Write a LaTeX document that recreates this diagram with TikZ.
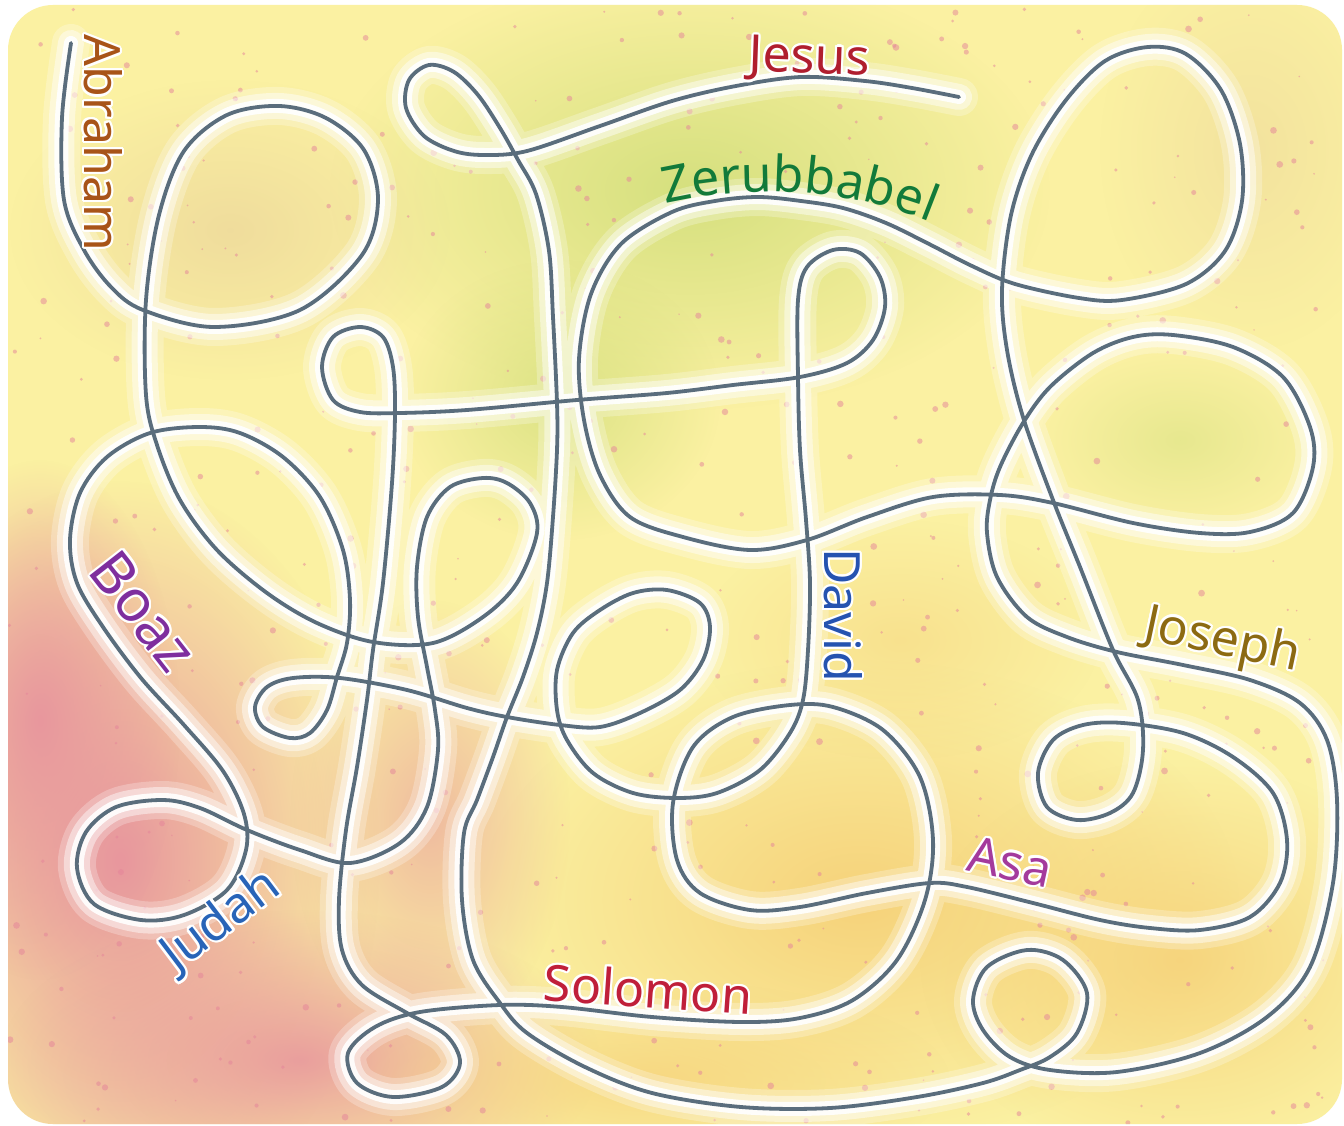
\documentclass[tikz,border=0pt]{standalone}
\usepackage{fontspec}
\setmainfont{Noto Sans}
\usepackage[copies]{contour}
\usetikzlibrary{fadings,decorations.text}
\definecolor{bgyellow}{HTML}{FBF1A2}
\definecolor{leaf}{HTML}{D3DF7C}
\definecolor{blush}{HTML}{E8979D}
\definecolor{honey}{HTML}{F6D27A}
\definecolor{tan}{HTML}{EBD49A}
\definecolor{specks}{HTML}{E5849A}
\definecolor{mazeline}{HTML}{5A6D7C}
\definecolor{abrahamcol}{HTML}{A85418}
\definecolor{jesuscol}{HTML}{B01E2E}
\definecolor{zerucol}{HTML}{127A3A}
\definecolor{boazcol}{HTML}{7F2E9E}
\definecolor{judahcol}{HTML}{2864B8}
\definecolor{davidcol}{HTML}{2553B0}
\definecolor{josephcol}{HTML}{8C6A12}
\definecolor{asacol}{HTML}{A43A9C}
\definecolor{solomoncol}{HTML}{C01F3A}
\tikzfading[name=soft edge,inner color=transparent!0,outer color=transparent!100]
\contourlength{2.2pt}
\newcommand{\namefont}{\fontsize{50}{50}\selectfont}
\newcommand{\mazepath}{plot[smooth,tension=0.55] coordinates {
  (71,43) (62,118) (64,200) (84,250) (111,287) (143,310) (214,327) (300,310) (362,255) (378,200)
  (364,150) (326,118) (279,106) (227,115) (184,151) (159,215) (146,300) (146,395) (157,445) (180,500)
  (217,550) (267,593) (317,623) (373,642) (433,643) (483,617) (517,583) (537,533) (530,503) (507,483)
  (483,478) (450,487) (427,517) (417,567) (418,617) (427,667) (435,710) (438,750) (427,807) (400,843)
  (350,863) (300,850) (247,830) (200,808) (163,800) (116,807) (86,832) (77,868) (94,904) (141,920)
  (184,915) (227,890) (246,850) (244,814) (223,771) (184,725) (141,678) (103,627) (77,583) (70,540)
  (80,493) (107,457) (150,433) (200,427) (240,433) (283,457) (320,497) (343,550) (350,600) (347,643)
  (337,677) (327,710) (310,733) (290,738) (263,727) (255,707) (267,687) (293,678) (340,678) (407,690)
  (467,708) (507,717) (560,725) (600,727) (640,713) (680,690) (703,660) (710,627) (700,603) (667,590)
  (633,593) (600,610) (573,633) (557,670) (557,710) (567,740) (593,773) (633,793) (677,798) (717,793)
  (760,770) (790,733) (803,700) (808,650) (810,583) (806,520) (800,450) (798,377) (798,300) (807,267)
  (833,250) (860,253) (880,277) (885,307) (873,340) (847,363) (800,377) (733,385) (667,393) (577,400)
  (467,410) (400,413) (360,412) (333,400) (322,367) (333,337) (360,327) (383,337) (393,367) (395,413)
  (392,483) (383,583) (373,650) (367,700) (357,767) (346,830) (339,900) (342,950) (362,985) (407,1013)
  (446,1035) (460,1063) (442,1087) (393,1097) (357,1083) (348,1053) (375,1027) (420,1012) (500,1005) (562,1007)
  (652,1017) (741,1022) (800,1018) (853,1000) (897,960) (925,900) (933,840) (920,777) (883,730) (833,707)
  (790,705) (733,717) (693,747) (673,803) (677,860) (700,893) (750,910) (800,907) (867,893) (930,883)
  (967,887) (1033,903) (1100,920) (1150,928) (1200,930) (1250,917) (1280,883) (1287,840) (1273,793) (1233,757)
  (1183,733) (1123,723) (1083,725) (1053,740) (1038,773) (1047,807) (1077,820) (1110,813) (1133,793) (1143,750)
  (1138,700) (1113,650) (1080,567) (1053,500) (1023,417) (1007,350) (1002,290) (1011,215) (1032,154) (1066,100)
  (1105,61) (1148,47) (1186,54) (1221,90) (1240,144) (1242,201) (1225,251) (1186,284) (1122,300) (1079,298)
  (1015,284) (972,266) (929,244) (886,223) (843,208) (801,201) (758,197) (715,201) (672,212) (621,244)
  (591,294) (579,359) (584,420) (600,475) (630,517) (683,537) (750,550) (807,540) (867,517) (933,497)
  (1000,495) (1053,503) (1133,523) (1200,533) (1250,532) (1293,513) (1313,467) (1310,427) (1283,377) (1233,347)
  (1173,335) (1133,337) (1093,353) (1050,387) (1023,423) (1000,467) (990,500) (987,533) (997,577) (1027,617)
  (1067,637) (1117,652) (1183,665) (1250,680) (1300,703) (1327,740) (1337,800) (1333,883) (1310,967) (1267,1017)
  (1200,1053) (1117,1072) (1050,1070) (1010,1057) (983,1030) (973,1000) (987,967) (1027,950) (1063,960) (1087,993)
  (1077,1033) (1050,1057) (1020,1070) (983,1083) (917,1097) (830,1108) (741,1107) (652,1093) (585,1067) (527,1033)
  (500,1003) (473,960) (462,900) (464,833) (477,800) (493,757) (507,717) (523,677) (537,633) (547,583)
  (553,517) (557,450) (557,403) (553,317) (549,251) (536,194) (518,160) (500,128) (478,95) (454,72)
  (429,65) (409,80) (406,108) (424,136) (454,151) (484,155) (527,151) (600,126) (672,101) (736,86)
  (801,77) (865,81) (912,88) (959,97)}}

\begin{document}
\begin{tikzpicture}[x=1pt,y=-1pt,
    maze/.style={draw=mazeline,line width=3.8pt,line cap=round,line join=round},
    halo/.style={draw=white,line cap=round,line join=round},
    patch/.style={path fading=soft edge},
    speck/.style={fill=specks,opacity=0.5},
    hero/.style={font=\namefont,inner sep=0pt},
  ]
  \useasboundingbox (0,0) rectangle (1344,1126);
  \fill[white] (0,0) rectangle (1344,1126);
  \begin{scope}
    \clip[rounded corners=45pt] (8,5) rectangle (1342,1124);
    \fill[bgyellow] (0,0) rectangle (1344,1126);
    \fill[leaf,patch,opacity=0.95] (690,190) ellipse (360 and 220);
    \fill[leaf,patch,opacity=0.8] (560,400) ellipse (160 and 140);
    \fill[leaf,patch,opacity=0.5] (1180,440) ellipse (140 and 90);
    \fill[tan,patch,opacity=0.7] (230,230) ellipse (220 and 150);
    \fill[tan,patch,opacity=0.5] (1250,150) ellipse (150 and 200);
    \fill[blush,patch] (120,860) ellipse (260 and 380);
    \fill[blush,patch] (40,720) ellipse (140 and 260);
    \fill[blush,patch,opacity=0.9] (300,1060) ellipse (300 and 150);
    \fill[blush,patch,opacity=0.6] (430,820) ellipse (140 and 220);
    \fill[honey,patch] (860,900) ellipse (380 and 240);
    \fill[honey,patch,opacity=0.9] (1180,960) ellipse (260 and 200);
    \fill[honey,patch,opacity=0.8] (650,1080) ellipse (300 and 100);
    \fill[honey,patch,opacity=0.5] (900,640) ellipse (200 and 120);
    \pgfmathsetseed{42}
    \foreach \i in {1,...,520}
      \fill[speck] ({8+1330*rnd},{5+1118*rnd}) circle ({0.8+2.6*rnd});
    \foreach \w/\o in {38/0.25,26/0.45,14/0.9}
      \draw[halo,line width=\w pt,opacity=\o] \mazepath;
    \draw[maze] \mazepath;
  \end{scope}

  \node[hero,text=abrahamcol,rotate=-90] (abraham) at (102,143) {\contour{white}{Abraham}};
  \node[hero,text=jesuscol,anchor=base,rotate=-2] (jesus) at (809,73) {\contour{white}{Jesus}};
  \path[decorate,decoration={text along path,text align=center,
      text={|\namefont\color{zerucol}|Zerubbabel}}]
    (655,206) .. controls (740,184) and (850,186) .. (940,226);
  \node[hero,text=boazcol,rotate=-52,font=\fontsize{58}{58}\selectfont] (boaz) at (143,612) {\contour{white}{Boaz}};
  \node[hero,text=judahcol,rotate=37] (judah) at (222,922) {\contour{white}{Judah}};
  \node[hero,text=davidcol,rotate=-90] (david) at (842,615) {\contour{white}{David}};
  \node[hero,text=josephcol,rotate=-12] (joseph) at (1222,643) {\contour{white}{Joseph}};
  \node[hero,text=asacol,rotate=-12] (asa) at (1010,863) {\contour{white}{Asa}};
  \node[hero,text=solomoncol,rotate=-4] (solomon) at (648,990) {\contour{white}{Solomon}};
\end{tikzpicture}
\end{document}
